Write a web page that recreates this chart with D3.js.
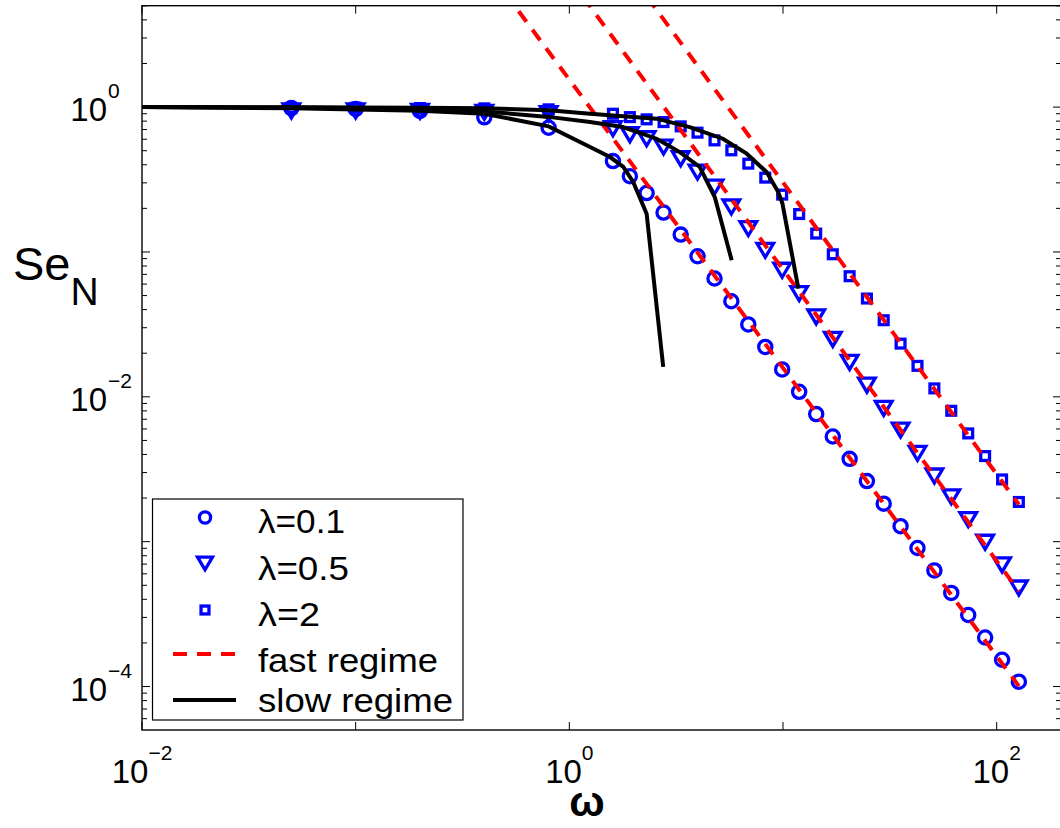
<!DOCTYPE html>
<html>
<head>
<meta charset="utf-8">
<script src="https://cdnjs.cloudflare.com/ajax/libs/d3/7.8.5/d3.min.js"></script>
<style>
  html, body { margin: 0; padding: 0; background: #fff; }
  svg { display: block; }
  text { font-family: "Liberation Sans", Arial, Helvetica, sans-serif; fill: #000; }
</style>
</head>
<body>
<svg id="chart" width="1060" height="828"></svg>
<script>
// ---------------- data ----------------
const omega = [0.05, 0.1, 0.2, 0.4, 0.8, 1.6, 1.92, 2.30, 2.76, 3.32, 3.98, 4.78, 5.73, 6.88, 8.26,
               9.91, 11.9, 14.3, 17.1, 20.5, 24.7, 29.6, 35.5, 42.6, 51.1, 61.3, 73.6, 88.3, 106, 127];
const seLam01 = [0.985, 0.97, 0.94, 0.85, 0.72, 0.424, 0.333, 0.255, 0.187, 0.1318, 0.0934, 0.0656,
                 0.0457, 0.0316, 0.0221, 0.01545, 0.01083, 0.0076, 0.00532, 0.00373, 0.00262, 0.00183,
                 0.00128, 0.000905, 0.000633, 0.000443, 0.000312, 0.000218, 0.000153, 0.000108];
const seLam05 = [0.94, 0.94, 0.935, 0.92, 0.90, 0.710, 0.645, 0.605, 0.530, 0.4406, 0.3562, 0.2807,
                 0.2043, 0.1450, 0.1027, 0.0748, 0.0516, 0.0356, 0.0249, 0.01727, 0.01204, 0.00832,
                 0.00589, 0.00407, 0.00284, 0.00204, 0.001422, 0.000991, 0.000691, 0.000479];
const seLam2 = [0.99, 0.99, 0.985, 0.98, 0.965, 0.900, 0.853, 0.823, 0.788, 0.736, 0.666, 0.589,
                0.503, 0.407, 0.326, 0.2488, 0.1828, 0.1339, 0.0964, 0.0680, 0.0477, 0.0338,
                0.0233, 0.01636, 0.01143, 0.00801, 0.00559, 0.00390, 0.00269, 0.00188];

// fast regime (straight lines in log-log)
const fastOmega1 = [0.5, 127], fastSe1 = [6.15, 1.007e-4];
const fastOmega2 = [1.0, 127], fastSe2 = [7.77, 4.55e-4];
const fastOmega3 = [2.0, 127], fastSe3 = [7.72, 1.807e-3];

// slow regime curves
const slowOmega1 = [0.01, 0.05, 0.1, 0.2, 0.4, 0.8, 1.25, 1.55, 1.79, 1.99, 2.30, 2.75];
const slowSe1    = [1.0, 0.983, 0.964, 0.942, 0.90, 0.736, 0.530, 0.452, 0.386, 0.304, 0.1834, 0.0161];
const slowOmega2 = [0.01, 0.05, 0.1, 0.2, 0.4, 0.8, 1.25, 1.78, 2.56, 3.29, 4.08, 4.80, 5.75];
const slowSe2    = [1.0, 0.992, 0.986, 0.972, 0.934, 0.856, 0.788, 0.728, 0.605, 0.489, 0.386, 0.238, 0.0877];
const slowOmega3 = [0.01, 0.05, 0.1, 0.2, 0.4, 0.8, 1.25, 2.56, 3.66, 5.23, 6.76, 8.38, 9.50, 9.94, 11.8];
const slowSe3    = [1.0, 0.997, 0.995, 0.99, 0.98, 0.952, 0.90, 0.832, 0.728, 0.605, 0.477, 0.356, 0.259, 0.216, 0.0559];

const xTickValues = [0.01, 0.1, 1, 10, 100];
const xTickLabels = [["10", "\u22122"], null, ["10", "0"], null, ["10", "2"]];
const yTickValues = [1e-4, 1e-3, 1e-2, 1e-1, 1];
const yTickLabels = [["10", "\u22124"], null, ["10", "\u22122"], null, ["10", "0"]];
const legendLabels = ["\u03bb=0.1", "\u03bb=0.5", "\u03bb=2", "fast regime", "slow regime"];

// ---------------- layout ----------------
const svg = d3.select("#chart");
const W = 1060, H = 828;
const pLeft = 142, pRight = 1061, pTop = 5.7, pBottom = 730;

const x = d3.scaleLog().domain([0.01, 200]).range([pLeft, pRight]);
const y = d3.scaleLog().domain([Math.pow(10, -4.3), Math.pow(10, 0.7)]).range([pBottom, pTop]);

svg.append("rect").attr("width", W).attr("height", H).attr("fill", "#fff");

const defs = svg.append("defs");
defs.append("clipPath").attr("id", "plotclip")
  .append("rect").attr("x", pLeft).attr("y", pTop).attr("width", pRight - pLeft).attr("height", pBottom - pTop);

const blue = "#0000ff", red = "#ff0000";

function drawMarker(g, type, cx, cy, scale) {
  scale = scale || 1;
  if (type === "circle") {
    g.append("circle").attr("cx", cx).attr("cy", cy).attr("r", 6.6 * scale)
      .attr("fill", "none").attr("stroke", blue).attr("stroke-width", 3.3);
  } else if (type === "tri") {
    const w = 8.3 * scale, h = 7 * scale;
    g.append("path").attr("d", `M${cx - w},${cy - h}L${cx + w},${cy - h}L${cx},${cy + h}Z`)
      .attr("fill", "none").attr("stroke", blue).attr("stroke-width", 3.3).attr("stroke-linejoin", "miter");
  } else {
    const s = 4.4 * scale;
    g.append("rect").attr("x", cx - s).attr("y", cy - s).attr("width", 2 * s).attr("height", 2 * s)
      .attr("fill", "none").attr("stroke", blue).attr("stroke-width", 3.3);
  }
}

const plot = svg.append("g").attr("clip-path", "url(#plotclip)");

const series = [
  { vals: seLam01, type: "circle" },
  { vals: seLam05, type: "tri" },
  { vals: seLam2, type: "square" }
];
series.forEach(s => {
  const g = plot.append("g");
  omega.forEach((w, i) => drawMarker(g, s.type, x(w), y(s.vals[i])));
});

const line = d3.line().x(d => x(d[0])).y(d => y(d[1]));

[[fastOmega1, fastSe1], [fastOmega2, fastSe2], [fastOmega3, fastSe3]].forEach(([o, v]) => {
  plot.append("path").attr("d", line(o.map((w, i) => [w, v[i]])))
    .attr("fill", "none").attr("stroke", red).attr("stroke-width", 4)
    .attr("stroke-dasharray", "13,10");
});

[[slowOmega1, slowSe1], [slowOmega2, slowSe2], [slowOmega3, slowSe3]].forEach(([o, v]) => {
  plot.append("path").attr("d", line(o.map((w, i) => [w, v[i]])))
    .attr("fill", "none").attr("stroke", "#000").attr("stroke-width", 4)
    .attr("stroke-linejoin", "miter").attr("stroke-linecap", "butt");
});

// ---------------- axes box & ticks ----------------
const axG = svg.append("g");
axG.append("rect").attr("x", pLeft).attr("y", pTop).attr("width", pRight - pLeft).attr("height", pBottom - pTop)
  .attr("fill", "none").attr("stroke", "#000").attr("stroke-width", 1.4);

const majorLen = 8, minorLen = 5;
xTickValues.forEach(v => {
  axG.append("line").attr("x1", x(v)).attr("x2", x(v)).attr("y1", pBottom).attr("y2", pBottom - majorLen)
    .attr("stroke", "#000").attr("stroke-width", 1);
  axG.append("line").attr("x1", x(v)).attr("x2", x(v)).attr("y1", pTop).attr("y2", pTop + majorLen)
    .attr("stroke", "#000").attr("stroke-width", 1);
});
const yMinor = [];
for (let e = -5; e <= 0; e++) {
  for (let m = 2; m <= 9; m++) {
    const v = m * Math.pow(10, e);
    if (v > y.domain()[0] && v < y.domain()[1]) yMinor.push(v);
  }
}
yTickValues.forEach(v => {
  axG.append("line").attr("x1", pLeft).attr("x2", pLeft + majorLen).attr("y1", y(v)).attr("y2", y(v))
    .attr("stroke", "#000").attr("stroke-width", 1);
  axG.append("line").attr("x1", pRight).attr("x2", pRight - majorLen).attr("y1", y(v)).attr("y2", y(v))
    .attr("stroke", "#000").attr("stroke-width", 1);
});
yMinor.forEach(v => {
  axG.append("line").attr("x1", pLeft).attr("x2", pLeft + minorLen).attr("y1", y(v)).attr("y2", y(v))
    .attr("stroke", "#000").attr("stroke-width", 1);
  axG.append("line").attr("x1", pRight).attr("x2", pRight - minorLen).attr("y1", y(v)).attr("y2", y(v))
    .attr("stroke", "#000").attr("stroke-width", 1);
});

xTickValues.forEach((v, i) => {
  const lab = xTickLabels[i];
  if (!lab) return;
  const t = axG.append("text").attr("x", x(v)).attr("y", 783).attr("text-anchor", "middle")
    .attr("font-size", 33);
  t.append("tspan").text(lab[0]);
  t.append("tspan").attr("dy", -23).attr("font-size", 21).text(lab[1]);
});
yTickValues.forEach((v, i) => {
  const lab = yTickLabels[i];
  if (!lab) return;
  const yy = y(v);
  axG.append("text").attr("x", 107).attr("y", yy + 14).attr("text-anchor", "end")
    .attr("font-size", 33).text(lab[0]);
  axG.append("text").attr("x", 108).attr("y", yy - 9).attr("text-anchor", "start")
    .attr("font-size", 21).text(lab[1]);
});

svg.append("text").attr("x", 587).attr("y", 816).attr("text-anchor", "middle")
  .attr("font-size", 42).attr("font-weight", "bold")
  .text("\u03c9");
const yl = svg.append("text").attr("x", 13).attr("y", 280).attr("font-size", 47);
yl.append("tspan").text("Se");
yl.append("tspan").attr("font-size", 39).attr("dy", 25).text("N");

// ---------------- legend ----------------
const lg = svg.append("g");
lg.append("rect").attr("x", 152.5).attr("y", 499).attr("width", 463 - 152.5).attr("height", 720 - 499)
  .attr("fill", "#fff").attr("stroke", "#000").attr("stroke-width", 1.2);
const rowY = [517.5, 563.5, 610, 654, 700];
const textBase = [533, 579.5, 626, 672, 712];
const textLen = [87, 91, 62, 180, 195];
const types = ["circle", "tri", "square"];
legendLabels.forEach((lab, i) => {
  const cy = rowY[i];
  if (i < 3) {
    drawMarker(lg, types[i], 205, cy, i === 0 ? 0.85 : 0.9);
  } else if (i === 3) {
    lg.append("line").attr("x1", 173).attr("x2", 236).attr("y1", cy).attr("y2", cy)
      .attr("stroke", red).attr("stroke-width", 4).attr("stroke-dasharray", "14,10");
  } else {
    lg.append("line").attr("x1", 173).attr("x2", 236).attr("y1", cy).attr("y2", cy)
      .attr("stroke", "#000").attr("stroke-width", 4);
  }
  lg.append("text").attr("x", 258).attr("y", textBase[i]).attr("font-size", 34)
    .attr("textLength", textLen[i]).attr("lengthAdjust", "spacingAndGlyphs").text(lab);
});
</script>
</body>
</html>
